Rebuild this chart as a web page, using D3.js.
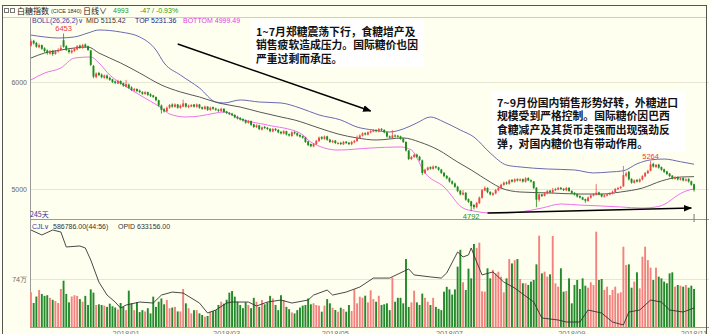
<!DOCTYPE html>
<html>
<head>
<meta charset="utf-8">
<script src="https://cdn.jsdelivr.net/npm/d3@7/dist/d3.min.js"></script>
<style>
body { margin: 0; background: #fffff0; }
svg { display: block; font-family: "Liberation Sans", Arial, sans-serif; }
</style>
</head>
<body>
<script>
// daily candles of the sugar index, [open, high, low, close]
var ohlc = [
[6340,6400,6330,6380],[6385,6395,6350,6360],[6365,6375,6320,6330],[6325,6360,6315,6345],[6345,6350,6300,6310],
[6315,6325,6275,6290],[6295,6305,6255,6270],[6265,6300,6255,6285],[6290,6300,6245,6260],[6262,6300,6255,6290],
[6285,6315,6275,6300],[6298,6345,6290,6320],[6390,6453,6320,6330],[6335,6345,6290,6300],[6300,6310,6265,6280],
[6275,6305,6265,6295],[6290,6320,6280,6310],[6305,6345,6295,6335],[6340,6350,6310,6320],[6318,6355,6310,6345],
[6350,6360,6320,6330],[6335,6340,6290,6300],[6295,6300,6150,6160],[6150,6160,6035,6050],[6045,6090,6035,6080],
[6085,6095,6055,6065],[6070,6080,6035,6045],[6040,6070,6030,6060],[6060,6070,6025,6035],[6040,6050,6010,6020],
[6025,6030,5990,6000],[6005,6015,5980,5990],[5985,6020,5980,6010],[6010,6015,5975,5985],[5990,5995,5955,5965],
[5955,6020,5950,5980],[5975,5985,5935,5945],[5950,5960,5915,5925],[5920,5945,5910,5935],[5935,5940,5905,5915],
[5920,5930,5895,5905],[5905,5915,5880,5890],[5888,5915,5880,5905],[5905,5910,5870,5880],[5885,5895,5860,5870],
[5875,5880,5850,5860],[5860,5865,5820,5830],[5830,5835,5770,5780],[5780,5790,5705,5740],[5745,5755,5715,5725],
[5725,5770,5720,5760],[5760,5795,5750,5785],[5790,5800,5760,5770],[5768,5800,5760,5790],[5790,5795,5750,5760],
[5758,5790,5750,5780],[5770,5835,5765,5800],[5800,5805,5760,5770],[5765,5790,5755,5780],[5770,5795,5765,5785],
[5790,5795,5760,5770],[5768,5800,5760,5790],[5790,5795,5750,5760],[5765,5770,5740,5750],[5748,5780,5740,5770],
[5770,5775,5730,5740],[5738,5770,5730,5760],[5765,5770,5740,5750],[5752,5760,5730,5740],[5742,5750,5720,5730],
[5728,5760,5720,5750],[5750,5755,5710,5720],[5725,5730,5700,5710],[5712,5720,5690,5700],[5705,5712,5680,5690],
[5692,5700,5660,5670],[5675,5685,5650,5660],[5665,5672,5640,5650],[5655,5660,5630,5640],[5645,5650,5610,5620],
[5618,5645,5610,5635],[5635,5640,5590,5600],[5605,5610,5570,5580],[5578,5605,5570,5595],[5595,5600,5550,5560],
[5555,5585,5548,5575],[5580,5590,5560,5570],[5572,5580,5550,5560],[5562,5570,5530,5540],[5538,5570,5530,5560],
[5562,5570,5540,5550],[5552,5560,5520,5530],[5535,5540,5510,5520],[5518,5550,5510,5540],[5540,5545,5500,5510],
[5512,5520,5490,5500],[5495,5540,5488,5530],[5532,5540,5510,5520],[5522,5530,5490,5500],[5505,5512,5480,5490],
[5495,5500,5470,5480],[5482,5488,5430,5440],[5445,5450,5400,5410],[5420,5425,5390,5400],[5398,5430,5390,5420],
[5420,5460,5412,5450],[5448,5490,5440,5480],[5485,5495,5460,5470],[5468,5500,5460,5490],[5492,5498,5450,5460],
[5462,5470,5430,5440],[5438,5460,5430,5450],[5452,5458,5420,5430],[5422,5440,5415,5430],[5432,5440,5410,5420],
[5418,5450,5410,5440],[5442,5448,5420,5430],[5432,5440,5410,5420],[5418,5450,5410,5440],[5436,5460,5428,5450],
[5448,5500,5440,5480],[5478,5510,5470,5500],[5498,5530,5490,5520],[5522,5530,5500,5510],[5508,5540,5500,5530],
[5528,5550,5520,5540],[5536,5560,5530,5550],[5552,5558,5530,5540],[5538,5570,5530,5560],[5562,5568,5540,5550],
[5552,5558,5520,5530],[5530,5535,5480,5490],[5492,5500,5470,5480],[5478,5550,5472,5500],[5500,5510,5482,5490],
[5498,5505,5480,5490],[5492,5498,5460,5470],[5472,5478,5430,5440],[5440,5445,5350,5360],[5360,5365,5270,5280],
[5280,5310,5270,5300],[5298,5330,5290,5320],[5322,5330,5290,5300],[5302,5310,5260,5270],[5268,5275,5130,5150],
[5150,5190,5140,5180],[5178,5210,5170,5200],[5205,5212,5180,5190],[5188,5220,5180,5210],[5212,5218,5190,5200],
[5202,5208,5170,5180],[5182,5188,5140,5150],[5152,5158,5110,5120],[5122,5130,5090,5100],[5102,5110,5060,5070],
[5072,5080,5040,5050],[5052,5060,5010,5020],[5022,5030,4970,4980],[4985,4990,4940,4950],[4948,4990,4940,4965],
[4965,4970,4890,4900],[4905,4912,4870,4880],[4885,4890,4792,4840],[4850,4860,4810,4830],[4830,4880,4820,4870],
[4868,4930,4860,4920],[4918,5000,4910,4990],[4985,5025,4980,5010],[5010,5015,4960,4970],[4972,4980,4940,4950],
[4945,4970,4935,4960],[4958,5000,4950,4990],[4988,5020,4980,5010],[5008,5050,5000,5040],[5038,5070,5030,5060],
[5062,5070,5040,5050],[5048,5090,5040,5080],[5085,5092,5060,5070],[5068,5100,5060,5090],[5092,5100,5070,5080],
[5078,5100,5070,5090],[5092,5098,5060,5070],[5068,5110,5060,5100],[5102,5110,5075,5080],[5082,5090,5060,5070],
[5070,5075,5000,5010],[5012,5018,4830,4900],[4900,4960,4880,4950],[4950,4955,4925,4935],[4935,4970,4930,4960],
[4958,4990,4950,4980],[4985,4990,4960,4970],[4968,5010,4960,4990],[4988,5010,4980,5000],[4995,5020,4990,5010],
[5012,5018,4990,5000],[5002,5008,4980,4990],[4988,5020,4980,5010],[5012,5015,4975,4980],[4982,4988,4955,4960],
[4965,4970,4940,4950],[4952,4958,4920,4930],[4935,4940,4910,4920],[4922,4928,4895,4900],[4905,4910,4870,4890],
[4888,4930,4880,4920],[4918,4950,4910,4940],[4938,4960,4930,4950],[4945,5045,4940,4965],[4968,4975,4940,4950],
[4952,4958,4920,4930],[4928,4950,4920,4940],[4938,4960,4930,4950],[4948,4970,4940,4960],[4958,4985,4950,4975],
[4972,5010,4965,5000],[4998,5020,4990,5010],[5008,5030,5000,5020],[5025,5215,5020,5130],[5125,5160,5110,5145],
[5160,5170,5080,5090],[5095,5100,5050,5060],[5058,5090,5050,5080],[5085,5092,5060,5070],[5068,5100,5060,5090],
[5088,5130,5080,5120],[5118,5160,5110,5150],[5148,5180,5140,5170],[5170,5264,5165,5230],[5235,5245,5200,5210],
[5205,5235,5198,5225],[5228,5235,5190,5200],[5205,5210,5170,5180],[5185,5190,5150,5160],[5165,5170,5130,5140],
[5145,5150,5110,5120],[5125,5130,5090,5100],[5095,5120,5088,5110],[5112,5118,5080,5090],[5088,5110,5080,5100],
[5102,5108,5070,5080],[5078,5100,5070,5090],[5095,5100,5060,5070],[5072,5078,5030,5040],[5045,5050,4975,4993]
];

// volume (CJL), in 万
var volume = [
53.5,37,47,57,51,48,49,45,42,40, 37,58.6,71.4,51,38,47,49,48,43,39,
48,34,58,53,34,35,34,33,31,36, 32,30,27,37,31,26,56,36.5,26,38,
23,26,24,29,21,46.8,31,39,44,35, 41.6,29,30,31,24,24,58.6,36.5,29,21,
26,26,21,18.5,16,17,23.6,24.5,26,33.9, 39,36,42,53,55.5,46.8,39,34,29,38,
34,29,45,39,31,41.6,35,38,48,44, 34,26,49,41.6,31,27.5,22.5,21,26,30,
33,34,44,35,36.5,33.9,32.9,23.6,32.9,43, 36.5,29.8,26.2,23.6,29.8,27.8,23.6,33.9,24.6,58,
36.5,46.8,45.2,48.3,38,56.5,43,39,48.3,34, 35,36.5,26,76,39,45,45,36.5,104.8,31,
38,56,38,34,51.5,45,39,33.9,45,31, 28,26,54.5,62,58,50,58,93,119,69,
57,90,75,128,122,130,55,54.5,90.5,75, 87.8,82.7,85.3,77.6,53.5,75,104.8,98,103,104.8,
74,67.4,67.4,64.8,70,72.5,96.6,140.8,82.7,85.3, 77.6,81.2,140.3,67.4,62.2,90.5,54.5,55.5,75,36.5,
64.8,72.5,58.6,75,63.7,60.6,68.9,64.8,146.9,72.5, 74,57.2,62.2,49.3,57.2,62.2,51.9,53.5,123.8,95.6,
96.6,60.6,70,84.3,59.6,108.4,123.8,103.2,91.5,72.5, 91.5,77.6,75,70,67.4,82.7,84.3,62.2,64.8,63.7,
62.2,64.8,60.6,63.7,58.68
];

// open interest (OPID) read at these bars, in 万
var oiIdx = [0,4,8,11,13,18,20,22,25,28,31,33,35,40,45,48,52,56,62,65,68,72,74,80,83,87,92,96,102,104,109,111,116,121,126,132,139,141,147,151,153,157,159,161,162,164,166,170,174,178,185,188,194,197,202,205,210,214,218,220,224,228,232,235,240,244];
var oiVal = [118,114.5,118,116.6,106.1,106.8,105.4,97,81.5,72.4,67.5,63.3,65.4,67.5,66.8,72.4,74.5,73.8,66.8,59.8,61.9,66.8,67.5,67.5,64.7,67.5,68.9,66.8,68.9,72.4,75.9,72.4,74.5,78,84.3,84.3,90.7,86.5,85.1,84.3,87.9,102.6,99.1,100.5,105.4,95.6,86.5,88.6,81.5,77.3,67.5,56.3,54.9,53.5,53.5,61.9,59.8,53.5,51.4,60.5,61.9,68.9,67.5,61.9,60.5,63.3156];

// BOLL(26,26,2) lines read at these bars
var topIdx = [0,5,10,16,21,25,33,40,46,49,55,62,68,71,77,84,92,99,106,114,120,126,132,137,142,147,152,158,163,169,175,180,190,200,207,213,218,223,228,233,239,244];
var topVal = [6439,6421,6411,6421,6458,6486,6467,6421,6299,6178,6065,5944,5813,5804,5832,5813,5804,5757,5692,5645,5579,5551,5533,5561,5617,5673,5626,5551,5486,5336,5224,5206,5187,5178,5150,5159,5170,5235,5272,5280,5255,5231.36];
var midIdx = [0,5,11,16,21,25,33,40,48,55,62,69,77,84,92,97,106,113,120,127,137,143,150,157,162,169,173,180,191,202,210,217,225,232,239,244];
var midVal = [6224,6271,6299,6318,6327,6271,6178,6084,5972,5907,5860,5804,5766,5720,5673,5645,5570,5514,5477,5458,5477,5439,5364,5252,5178,5065,5009,4972,4963,4953,4953,4972,5009,5075,5112,5115.42];
var botIdx = [0,5,11,16,22,25,29,33,40,48,51,57,62,68,71,77,87,99,103,113,125,136,140,145,152,159,163,169,176,180,188,195,202,210,217,225,230,234,237,241,244];
var botVal = [6019,6084,6131,6224,6234,6178,6065,5991,5879,5757,5701,5673,5682,5710,5720,5654,5598,5523,5439,5364,5383,5393,5364,5150,5019,4822,4794,4776,4776,4785,4822,4860,4850,4841,4832,4822,4832,4869,4925,4981,4999.49];

var tickIdx = [35, 72, 112, 154, 199, 244];
var tickLabels = ['2018/01', '2018/03', '2018/05', '2018/07', '2018/09', '2018/11'];

var note1 = ['1~7月郑糖震荡下行，食糖增产及', '销售疲软造成压力。国际糖价也因', '严重过剩而承压。'];
var note2 = ['7~9月份国内销售形势好转，外糖进口', '规模受到严格控制。国际糖价因巴西', '食糖减产及其货币走强而出现强劲反', '弹，对国内糖价也有带动作用。'];

var width = 709, height = 334;
var left = 30, right = 695;
var upTop = 17, upBottom = 219, lowBottom = 327;

var svg = d3.select('body').append('svg').attr('width', width).attr('height', height);
svg.append('rect').attr('width', width).attr('height', height).attr('fill', '#fffff0');

var x = d3.scaleBand().domain(d3.range(ohlc.length)).range([left, right]).paddingInner(0.3);
var cx = function(i) { return x(i) + x.bandwidth() / 2; };
var y = d3.scaleLinear().domain([5000, 6000]).range([189, 82]);
var yv = d3.scaleLinear().domain([0, 74]).range([lowBottom, 279]);
var yo = d3.scaleLinear().domain([50, 118]).range([lowBottom, 230]);

var upColor = '#ec4848', downColor = '#1d8a1d';
var volUp = '#f3827f', volDown = '#23892a';

// grid + axes
var gy = svg.append('g').attr('transform', 'translate(' + left + ',0)')
  .call(d3.axisLeft(y).tickValues([5000, 6000]).tickSize(-(width - left)).tickPadding(3).tickFormat(d3.format('d')));
var gv = svg.append('g').attr('transform', 'translate(' + left + ',0)')
  .call(d3.axisLeft(yv).tickValues([74]).tickSize(-(width - left)).tickPadding(3).tickFormat(function(d) { return d + '万'; }));
[gy, gv].forEach(function(g) {
  g.select('.domain').remove();
  g.selectAll('line').attr('stroke', '#e6e6d2');
  g.selectAll('text').attr('fill', '#666').style('font-size', '7px');
});

var frame = svg.append('g').attr('stroke', '#9a9a9a').attr('fill', 'none');
frame.append('line').attr('x1', left + 0.5).attr('x2', left + 0.5).attr('y1', upTop).attr('y2', lowBottom);
frame.append('line').attr('x1', left).attr('x2', width).attr('y1', upBottom + 0.5).attr('y2', upBottom + 0.5);
frame.append('line').attr('x1', left).attr('x2', width).attr('y1', lowBottom + 0.5).attr('y2', lowBottom + 0.5);
frame.append('line').attr('x1', 2).attr('x2', width - 2).attr('y1', upTop + 0.5).attr('y2', upTop + 0.5).attr('stroke', '#cfcfc0');
frame.append('rect').attr('x', 2.5).attr('y', 5.5).attr('width', width - 5).attr('height', height).attr('stroke', '#555');

// x axis labels (cut by the bottom edge as in the original)
svg.append('g').selectAll('text').data(tickIdx).enter().append('text')
  .attr('x', function(d) { return cx(d); }).attr('y', 335.5)
  .attr('text-anchor', 'middle').attr('fill', '#777').style('font-size', '7.5px')
  .text(function(d, i) { return tickLabels[i]; });

// bollinger lines
function bandLine(idx, vals, color) {
  var line = d3.line().x(function(d) { return cx(d); }).y(function(d, i) { return y(vals[i]); }).curve(d3.curveMonotoneX);
  svg.append('path').attr('d', line(idx)).attr('fill', 'none').attr('stroke', color).attr('stroke-width', 1);
}
bandLine(topIdx, topVal, '#6a6ab4');
bandLine(midIdx, midVal, '#585858');
bandLine(botIdx, botVal, '#f070f0');

// candles
var candle = svg.append('g').selectAll('g').data(ohlc).enter().append('g');
candle.append('line')
  .attr('x1', function(d, i) { return cx(i); }).attr('x2', function(d, i) { return cx(i); })
  .attr('y1', function(d) { return y(d[1]); }).attr('y2', function(d) { return y(d[2]); })
  .attr('stroke', function(d) { return d[3] >= d[0] ? upColor : downColor; }).attr('stroke-width', 0.8);
candle.append('rect')
  .attr('x', function(d, i) { return x(i); }).attr('width', x.bandwidth())
  .attr('y', function(d) { return y(Math.max(d[0], d[3])); })
  .attr('height', function(d) { return Math.max(1, Math.abs(y(d[0]) - y(d[3]))); })
  .attr('fill', function(d) { return d[3] >= d[0] ? upColor : downColor; });

// volume bars
svg.append('g').selectAll('rect').data(volume).enter().append('rect')
  .attr('x', function(d, i) { return x(i); }).attr('width', x.bandwidth())
  .attr('y', function(d) { return yv(d); }).attr('height', function(d) { return yv(0) - yv(d); })
  .attr('fill', function(d, i) { return ohlc[i][3] >= ohlc[i][0] ? volUp : volDown; });

// open interest line
var oiLine = d3.line().x(function(d) { return cx(d); }).y(function(d, i) { return yo(oiVal[i]); });
svg.append('path').attr('d', oiLine(oiIdx)).attr('fill', 'none').attr('stroke', '#333').attr('stroke-width', 0.9);

// cursor tick at the last bar
svg.append('line').attr('x1', cx(244)).attr('x2', cx(244)).attr('y1', upBottom - 5).attr('y2', upBottom + 3).attr('stroke', '#777');

// high / low marks
function mark(i, v, dy, color) {
  svg.append('text').attr('x', cx(i)).attr('y', y(v) + dy).attr('text-anchor', 'middle')
    .attr('fill', color).style('font-size', '7.5px').text(v);
}
mark(12, 6453, -3, '#e04040');
mark(162, 4792, 7.5, '#2a8a2a');
mark(228, 5264, -2, '#e04040');

// headers
function txt(xp, yp, s, color, size, fam) {
  return svg.append('text').attr('x', xp).attr('y', yp).attr('fill', color)
    .style('font-size', size + 'px').style('font-family', fam || null).text(s);
}
svg.append('rect').attr('x', 4.5).attr('y', 8.5).attr('width', 4).attr('height', 4).attr('fill', 'none').attr('stroke', '#777');
svg.append('rect').attr('x', 10.5).attr('y', 8.5).attr('width', 4).attr('height', 4).attr('fill', 'none').attr('stroke', '#777');
txt(17, 13.5, '白糖指数', '#222', 8, 'Noto Sans CJK SC');
txt(51, 13, '(CICE 1840)', '#333', 5.5);
txt(83, 13.5, '日线∨', '#222', 8, 'Noto Sans CJK SC');
txt(113, 13, '4993', '#1a9a1a', 7);
txt(140, 13, '-47 / -0.93%', '#1a9a1a', 7);

txt(32, 23, 'BOLL(26,26,2)∨', '#3a3aa0', 7);
txt(86, 23, 'MID 5115.42', '#333', 7);
txt(135, 23, 'TOP 5231.36', '#1a1a8a', 7);
txt(183, 23, 'BOTTOM 4999.49', '#e040e0', 7);

txt(30, 217, '245天', '#3030a0', 7, 'Noto Sans CJK SC');
txt(32, 228.5, 'CJL∨', '#3a3aa0', 7);
txt(53, 228.5, '586786.00(44:56)', '#333', 7);
txt(118, 228.5, 'OPID 633156.00', '#333', 7);

// notes and arrows
svg.append('defs').append('marker').attr('id', 'ah').attr('viewBox', '0 0 10 10')
  .attr('refX', 9).attr('refY', 5).attr('markerWidth', 6).attr('markerHeight', 6).attr('orient', 'auto')
  .append('path').attr('d', 'M0,1 L10,5 L0,9 z').attr('fill', '#000');

svg.append('line').attr('x1', cx(54)).attr('y1', y(6355)).attr('x2', cx(125)).attr('y2', y(5729))
  .attr('stroke', '#000').attr('stroke-width', 1.4).attr('marker-end', 'url(#ah)');
svg.append('line').attr('x1', cx(168)).attr('y1', y(4776)).attr('x2', cx(243)).attr('y2', y(4822))
  .attr('stroke', '#000').attr('stroke-width', 1.4).attr('marker-end', 'url(#ah)');

function note(lines, bx, by, bw, bh, tx, ty) {
  svg.append('rect').attr('x', bx).attr('y', by).attr('width', bw).attr('height', bh).attr('fill', '#fff');
  svg.append('g').selectAll('text').data(lines).enter().append('text')
    .attr('x', tx).attr('y', function(d, i) { return ty + i * 13.8; })
    .style('font-family', '"Noto Sans CJK SC", sans-serif').style('font-size', '10.8px').style('font-weight', 'bold')
    .attr('fill', '#111').text(function(d) { return d; });
}
note(note1, 251, 19, 173, 48, 256, 35.5);
note(note2, 492, 92, 194, 60, 497, 106.5);
</script>
</body>
</html>
